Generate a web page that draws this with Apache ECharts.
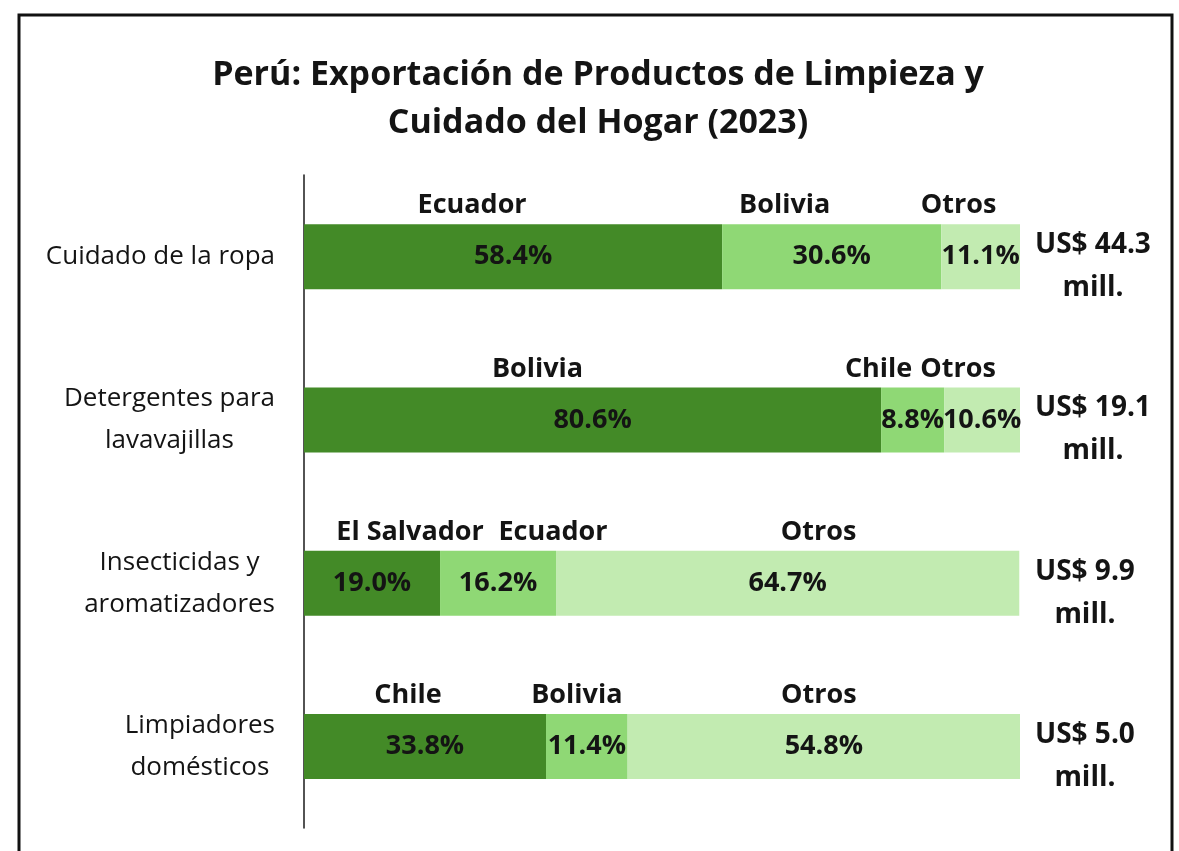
<!DOCTYPE html>
<html>
<head>
<meta charset="utf-8">
<script src="https://cdn.jsdelivr.net/npm/echarts@6/dist/echarts.min.js"></script>
<style>html,body{margin:0;padding:0;background:#fff}#c{width:1179px;height:851px}</style>
</head>
<body>
<div id="c"></div>
<script>
// ---- data ----
const categories = ['Cuidado de la ropa', 'Detergentes para\nlavavajillas', 'Insecticidas y\naromatizadores', 'Limpiadores\ndomésticos'];
const firstShare = [58.4, 80.6, 19.0, 33.8];
const firstName = ['Ecuador', 'Bolivia', 'El Salvador', 'Chile'];
const secondShare = [30.6, 8.8, 16.2, 11.4];
const secondName = ['Bolivia', 'Chile', 'Ecuador', 'Bolivia'];
const otherShare = [11.1, 10.6, 64.7, 54.8];
const otherName = ['Otros', 'Otros', 'Otros', 'Otros'];
const totals = [44.3, 19.1, 9.9, 5.0];
const titleText = 'Perú: Exportación de Productos de Limpieza y\nCuidado del Hogar (2023)';

// ---- layout / style ----
const FONT = '"Open Sans", sans-serif';
const LABEL_SIZE = 27;
const TEXT = '#141414';
const colors = ['#438a27', '#8fd875', '#c2ebb1'];
const BAR_W = 65;
const nameNudge = [
  [-41, -55, 38, -17],
  [-47, -34, 55, -10],
  [-22, -24, 31, -5]
];
const shares = [firstShare, secondShare, otherShare];
const names = [firstName, secondName, otherName];

const series = [];
shares.forEach((arr, s) => {
  series.push({
    type: 'bar', stack: 'v', barWidth: BAR_W, barGap: '-100%',
    data: arr,
    itemStyle: { color: colors[s] },
    label: {
      show: true, position: 'inside', color: TEXT,
      fontFamily: FONT, fontWeight: 'bold', fontSize: LABEL_SIZE,
      formatter: p => p.value.toFixed(1) + '%'
    },
    silent: true
  });
});
shares.forEach((arr, s) => {
  series.push({
    type: 'bar', stack: 'n', barWidth: BAR_W, barGap: '-100%',
    data: arr.map((v, i) => ({
      value: v,
      label: { offset: [nameNudge[s][i], 0] }
    })),
    itemStyle: { color: 'rgba(0,0,0,0)' },
    label: {
      show: true, position: 'top', distance: 5, color: TEXT,
      fontFamily: FONT, fontWeight: 'bold', fontSize: LABEL_SIZE,
      formatter: p => names[s][p.dataIndex]
    },
    silent: true
  });
});
series.push({
  type: 'scatter', symbolSize: 2, clip: false,
  itemStyle: { color: 'rgba(255,255,255,0)' },
  data: totals.map((t, i) => [100, i]),
  label: {
    show: true, position: 'right', distance: 14, offset: [0, 10],
    color: TEXT, opacity: 1,
    fontFamily: FONT, fontWeight: 'bold', fontSize: 28,
    formatter: p => '{t|US$ ' + totals[p.dataIndex].toFixed(1) + '}\n{t|mill.}',
    rich: { t: { align: 'center', fontFamily: FONT, fontWeight: 'bold', fontSize: 28, lineHeight: 43, color: TEXT, opacity: 1 } }
  },
  emphasis: { disabled: true },
  silent: true
});

const chart = echarts.init(document.getElementById('c'), null, { renderer: 'canvas' });
chart.setOption({
  animation: false,
  backgroundColor: '#fff',
  title: {
    text: titleText, left: 593, top: 46, textAlign: 'center',
    textStyle: { fontFamily: FONT, fontWeight: 'bold', fontSize: 34, lineHeight: 48, color: TEXT }
  },
  graphic: [{
    type: 'rect', z: 100,
    shape: { x: 19, y: 15, width: 1153, height: 900 },
    style: { fill: 'none', stroke: '#111', lineWidth: 3 }
  }],
  grid: { left: 304, right: 159, top: 175, bottom: 23, containLabel: false },
  xAxis: { type: 'value', min: 0, max: 100, show: false },
  yAxis: {
    type: 'category', data: categories, inverse: true,
    axisLine: { show: true, lineStyle: { color: '#1a1a1a', width: 1.5 } },
    axisTick: { show: false },
    axisLabel: {
      margin: 29,
      formatter: v => v.split('\n').map(s => '{c|' + s + '}').join('\n'),
      rich: { c: { align: 'center', fontFamily: FONT, fontSize: 26, lineHeight: 42, color: TEXT } }
    }
  },
  series: series
});
</script>
</body>
</html>
